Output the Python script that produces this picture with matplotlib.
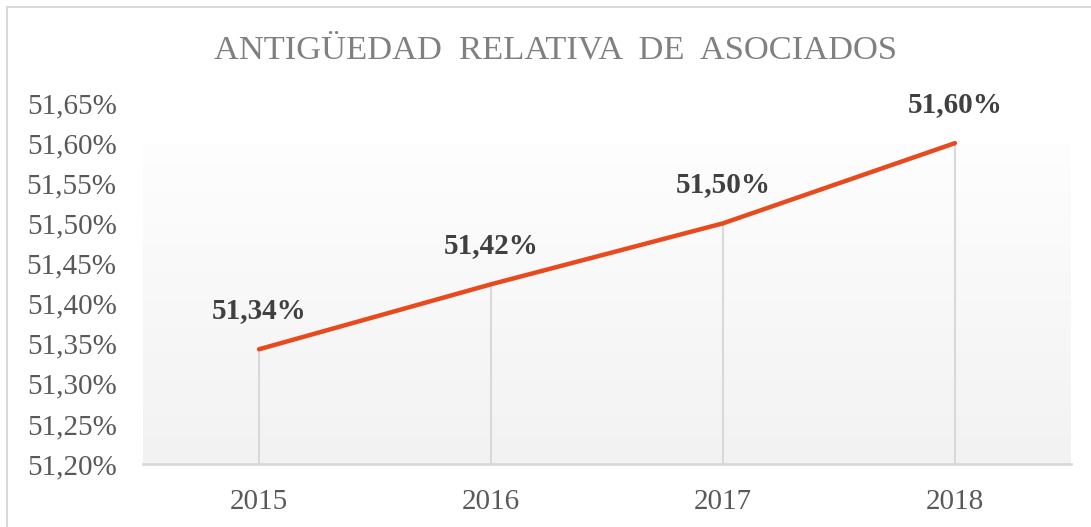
import numpy as np
import matplotlib
matplotlib.use('Agg')
import matplotlib.pyplot as plt
from matplotlib.patches import Rectangle

# data
years = ['2015', '2016', '2017', '2018']
values = [51.343, 51.424, 51.50, 51.60]
yticks = [51.20, 51.25, 51.30, 51.35, 51.40, 51.45, 51.50, 51.55, 51.60, 51.65]

plt.rcParams['font.family'] = ['Liberation Serif', 'DejaVu Serif']

fig = plt.figure(figsize=(10.91, 5.27), dpi=100)
ax = fig.add_axes([143 / 1091, 1 - 464 / 527, 928 / 1091, 361 / 527])

x = np.arange(len(years))

# background gradient of the plot area
grad = np.linspace(0, 1, 256).reshape(-1, 1)
top = np.array([0.995, 0.995, 0.995])
bot = np.array([0.949, 0.949, 0.949])
img = top + (bot - top) * grad[:, :, None] * np.ones((1, 1, 3))
ax.imshow(img, extent=[-0.5, 3.5, 51.20, 51.60], aspect='auto', zorder=0)

# drop lines
for xi, v in zip(x, values):
    ax.plot([xi, xi], [51.20, v], color='#d9d9d9', lw=1.5, zorder=1)

ax.plot(x, values, color='#E8491D', lw=3.2, solid_capstyle='round', zorder=3)

for xi, v in zip(x, values):
    ax.annotate(f'{v:.2f}%'.replace('.', ','), (xi, v), xytext=(0, 18),
                textcoords='offset points', ha='center', va='bottom',
                fontsize=21, fontweight='bold', color='#404040')

ax.set_xlim(-0.5, 3.5)
ax.set_ylim(51.20, 51.65)
ax.set_xticks(x)
ax.set_xticklabels(years)
ax.set_yticks(yticks)
ax.set_yticklabels([f'{t:.2f}%'.replace('.', ',') for t in yticks])
ax.tick_params(axis='both', length=0, labelsize=21, colors='#595959')
ax.tick_params(axis='x', pad=18)
ax.tick_params(axis='y', pad=19)

for s in ['top', 'right', 'left']:
    ax.spines[s].set_visible(False)
ax.spines['bottom'].set_color('#d9d9d9')
ax.spines['bottom'].set_linewidth(2)
ax.spines['bottom'].set_zorder(2)
ax.set_facecolor('white')

fig.text(555 / 1091, 1 - 50 / 527, 'ANTIGÜEDAD  RELATIVA  DE  ASOCIADOS',
         ha='center', va='center', fontsize=24.8, color='#808080')

# chart border
fig.patches.append(Rectangle((7 / 1091, -0.01), 1.02, 1 - 7 / 527 + 0.01,
                             transform=fig.transFigure, fill=False,
                             edgecolor='#d9d9d9', lw=1.5))

fig.savefig('out.png', dpi=100)
